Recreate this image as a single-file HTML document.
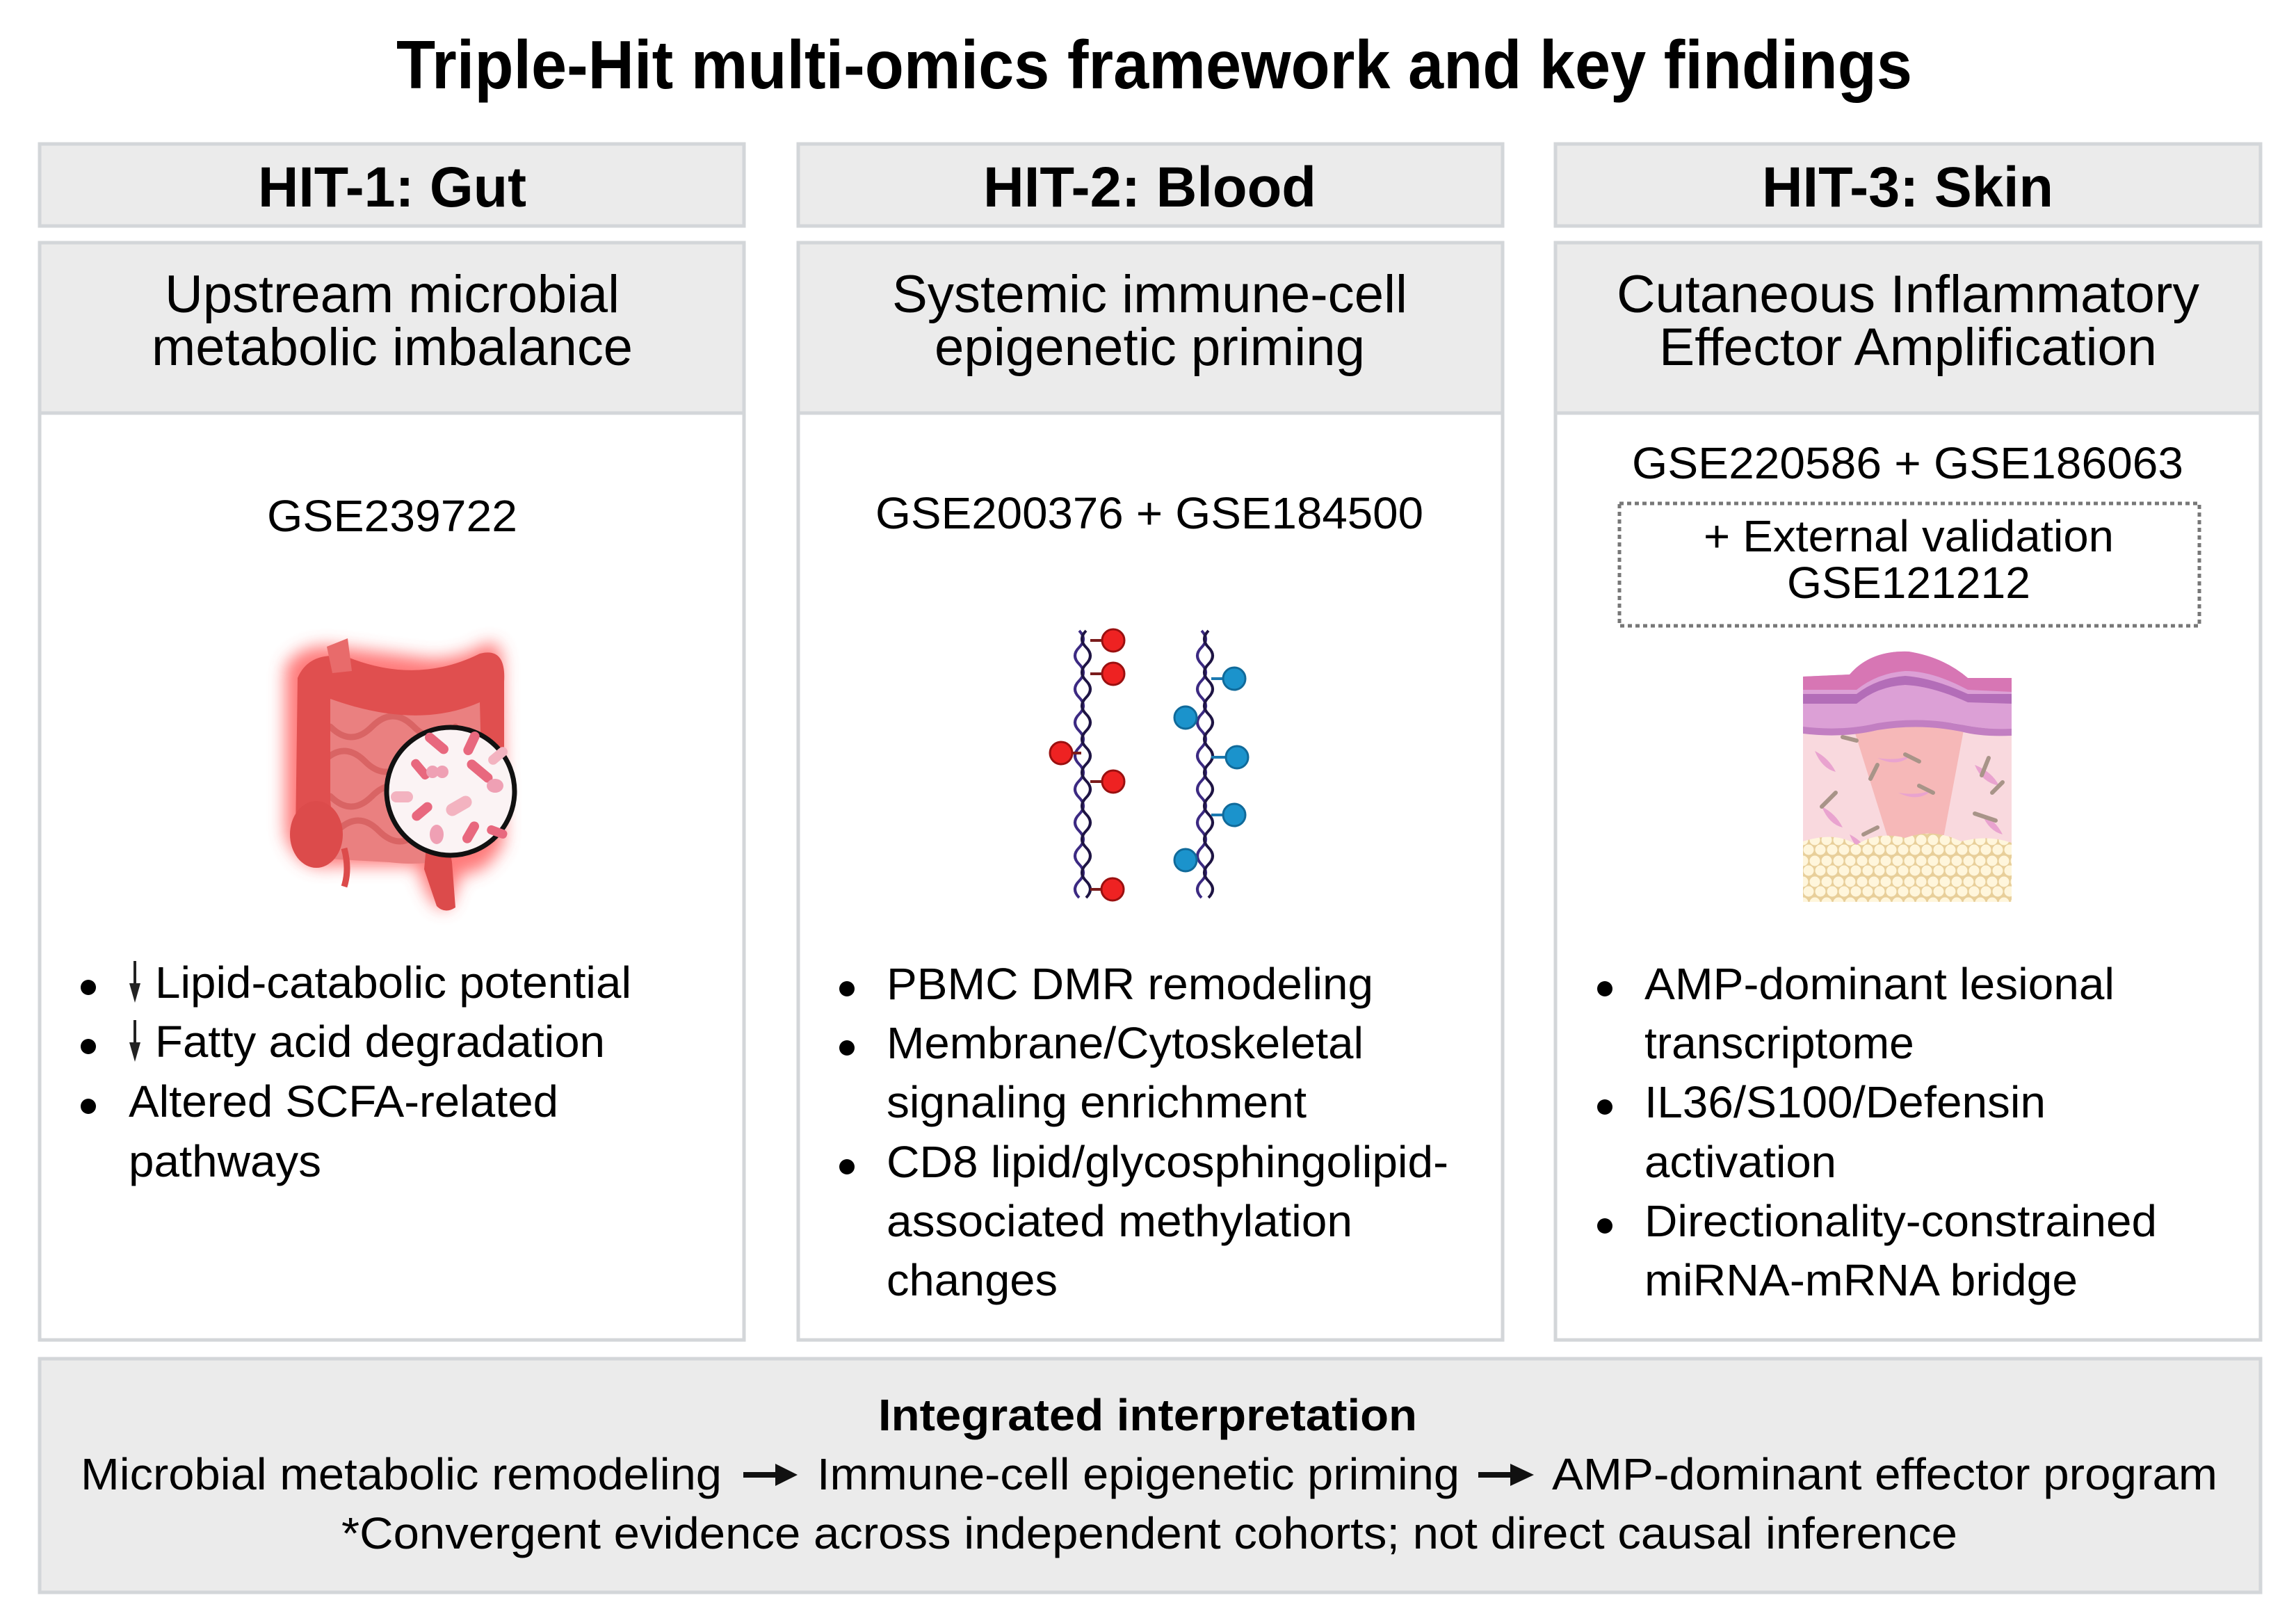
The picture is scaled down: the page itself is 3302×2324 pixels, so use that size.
<!DOCTYPE html>
<html><head><meta charset="utf-8"><style>
html,body{margin:0;padding:0;background:#fff;}
svg{display:block;}
text{font-family:"Liberation Sans",Arial,sans-serif;fill:#000;}
</style></head><body>
<svg width="3302" height="2324" viewBox="0 0 3302 2324" xmlns="http://www.w3.org/2000/svg">
<defs>
<filter id="glow" x="-30%" y="-30%" width="160%" height="160%"><feGaussianBlur stdDeviation="12"/></filter>
<pattern id="fat" width="34" height="30" patternUnits="userSpaceOnUse">
<rect width="34" height="30" fill="#e8cf9a"/>
<circle cx="9" cy="8" r="7.5" fill="#fff6dc"/><circle cx="26" cy="8" r="7.5" fill="#fff6dc"/>
<circle cx="17" cy="22" r="7.5" fill="#fff6dc"/><circle cx="0" cy="22" r="7.5" fill="#fff6dc"/><circle cx="34" cy="22" r="7.5" fill="#fff6dc"/>
</pattern>
</defs>

<text x="570" y="127" font-size="98" font-weight="bold" textLength="2180" lengthAdjust="spacingAndGlyphs">Triple-Hit multi-omics framework and key findings</text>

<g stroke="#d3d6d9" stroke-width="5">
<rect x="57" y="207" width="1013" height="118" fill="#ebebeb"/>
<rect x="57" y="349" width="1013" height="245" fill="#ebebeb"/>
<rect x="57" y="594" width="1013" height="1333" fill="#fff"/>
<rect x="1148" y="207" width="1013" height="118" fill="#ebebeb"/>
<rect x="1148" y="349" width="1013" height="245" fill="#ebebeb"/>
<rect x="1148" y="594" width="1013" height="1333" fill="#fff"/>
<rect x="2237" y="207" width="1014" height="118" fill="#ebebeb"/>
<rect x="2237" y="349" width="1014" height="245" fill="#ebebeb"/>
<rect x="2237" y="594" width="1014" height="1333" fill="#fff"/>
<rect x="57" y="1954" width="3194" height="336" fill="#ebebeb"/>
</g>

<text x="371" y="297" font-size="82" font-weight="bold" textLength="386" lengthAdjust="spacingAndGlyphs">HIT-1: Gut</text>
<text x="1414" y="297" font-size="82" font-weight="bold" textLength="479" lengthAdjust="spacingAndGlyphs">HIT-2: Blood</text>
<text x="2534" y="297" font-size="82" font-weight="bold" textLength="419" lengthAdjust="spacingAndGlyphs">HIT-3: Skin</text>

<text x="237" y="449" font-size="76" textLength="654" lengthAdjust="spacingAndGlyphs">Upstream microbial</text>
<text x="218" y="525" font-size="76" textLength="692" lengthAdjust="spacingAndGlyphs">metabolic imbalance</text>
<text x="1283" y="449" font-size="76" textLength="741" lengthAdjust="spacingAndGlyphs">Systemic immune-cell</text>
<text x="1344" y="525" font-size="76" textLength="619" lengthAdjust="spacingAndGlyphs">epigenetic priming</text>
<text x="2325" y="449" font-size="76" textLength="838" lengthAdjust="spacingAndGlyphs">Cutaneous Inflammatory</text>
<text x="2386" y="525" font-size="76" textLength="716" lengthAdjust="spacingAndGlyphs">Effector Amplification</text>

<text x="384" y="764" font-size="64" textLength="360" lengthAdjust="spacingAndGlyphs">GSE239722</text>
<text x="1259" y="760" font-size="64" textLength="788" lengthAdjust="spacingAndGlyphs">GSE200376 + GSE184500</text>
<text x="2347" y="688" font-size="64" textLength="793" lengthAdjust="spacingAndGlyphs">GSE220586 + GSE186063</text>
<rect x="2329" y="724" width="834" height="176" fill="none" stroke="#777" stroke-width="5" stroke-dasharray="6 5"/>
<text x="2450" y="793" font-size="64" textLength="590" lengthAdjust="spacingAndGlyphs">+ External validation</text>
<text x="2570" y="860" font-size="64" textLength="350" lengthAdjust="spacingAndGlyphs">GSE121212</text>

<!-- Gut -->
<g>
<g filter="url(#glow)" opacity="0.75">
<path d="M410 960 Q430 925 480 930 L600 945 Q650 955 700 925 Q725 920 722 970 L725 1210 Q700 1260 665 1255 L645 1305 Q620 1315 600 1245 L480 1245 Q430 1255 410 1200 Z" fill="#ff4d4d"/>
</g>
<path d="M430 990 L470 990 Q600 1030 700 985 L712 1010 L712 1210 Q640 1250 560 1240 L470 1235 L435 1190 Z" fill="#ea8080"/>
<g fill="none" stroke="#d96464" stroke-width="9" stroke-linecap="round">
<path d="M475 1045 q30 30 60 0 t60 0 t60 0"/>
<path d="M465 1095 q30 -30 60 0 t60 0 t60 0"/>
<path d="M475 1145 q30 30 60 0 t60 0"/>
<path d="M485 1195 q30 -30 60 0 t60 0"/>
</g>
<path d="M428 975 Q445 935 500 945 Q600 985 690 940 Q728 930 725 980 L725 1180 Q722 1205 695 1200 L690 1010 Q600 1050 475 1005 L475 1150 Q480 1200 475 1225 Q435 1235 425 1200 Z" fill="#e04f4f"/>
<path d="M470 930 L500 918 L506 965 L478 968 Z" fill="#e86b6b"/>
<ellipse cx="455" cy="1200" rx="38" ry="48" fill="#dc4b4b"/>
<path d="M615 1195 Q645 1205 650 1240 L655 1305 Q640 1315 628 1303 L610 1250 Z" fill="#dc4b4b"/>
<path d="M495 1220 q8 30 0 55" stroke="#dc4b4b" stroke-width="9" fill="none"/>
<circle cx="648" cy="1138" r="92" fill="#fbf3f4" stroke="#111" stroke-width="7"/>
<g fill="#e8687e">
<rect x="608" y="1062" width="40" height="14" rx="7" transform="rotate(40 628 1069)"/>
<rect x="660" y="1062" width="36" height="14" rx="7" transform="rotate(-65 678 1069)"/>
<rect x="668" y="1102" width="44" height="14" rx="7" transform="rotate(40 690 1109)"/>
<rect x="588" y="1100" width="34" height="13" rx="6" transform="rotate(50 605 1106)"/>
<rect x="590" y="1160" width="34" height="14" rx="7" transform="rotate(-40 607 1167)"/>
<rect x="660" y="1190" width="34" height="14" rx="7" transform="rotate(-60 677 1197)"/>
<rect x="700" y="1190" width="30" height="13" rx="6" transform="rotate(20 715 1196)"/>
<circle cx="622" cy="1110" r="9" fill="#efa0b4"/><circle cx="636" cy="1110" r="9" fill="#efa0b4"/>
<rect x="640" y="1150" width="40" height="18" rx="9" fill="#f3b3c0" transform="rotate(-30 660 1159)"/>
<rect x="562" y="1138" width="32" height="16" rx="8" fill="#f3b3c0"/>
<ellipse cx="628" cy="1200" rx="10" ry="14" fill="#efa0b4"/>
<ellipse cx="712" cy="1130" rx="12" ry="10" fill="#efa0b4"/>
<rect x="700" y="1080" width="32" height="14" rx="7" fill="#f3b3c0" transform="rotate(-40 716 1087)"/>
</g>
</g>

<!-- DNA -->
<g fill="none" stroke-width="4">
<path d="M1552 907 q12 12 0 24 t0 24 t0 24 t0 24 t0 24 t0 24 t0 24 t0 24 t0 24 t0 24 t0 24 t0 24 t0 24 t0 24 t0 24 t0 24" stroke="#3c2a82"/>
<path d="M1562 907 q-12 12 0 24 t0 24 t0 24 t0 24 t0 24 t0 24 t0 24 t0 24 t0 24 t0 24 t0 24 t0 24 t0 24 t0 24 t0 24 t0 24" stroke="#1e1444"/>
<path d="M1728 907 q12 12 0 24 t0 24 t0 24 t0 24 t0 24 t0 24 t0 24 t0 24 t0 24 t0 24 t0 24 t0 24 t0 24 t0 24 t0 24 t0 24" stroke="#3c2a82"/>
<path d="M1738 907 q-12 12 0 24 t0 24 t0 24 t0 24 t0 24 t0 24 t0 24 t0 24 t0 24 t0 24 t0 24 t0 24 t0 24 t0 24 t0 24 t0 24" stroke="#1e1444"/>
</g>
<g stroke="#7a1c1c" stroke-width="4">
<line x1="1568" y1="921" x2="1585" y2="921"/><line x1="1568" y1="969" x2="1585" y2="969"/>
<line x1="1540" y1="1083" x2="1555" y2="1083"/><line x1="1568" y1="1124" x2="1585" y2="1124"/><line x1="1568" y1="1279" x2="1585" y2="1279"/>
</g>
<g fill="#ee2222" stroke="#9a1010" stroke-width="3">
<circle cx="1601" cy="921" r="16"/><circle cx="1601" cy="969" r="16"/><circle cx="1526" cy="1083" r="16"/><circle cx="1601" cy="1124" r="16"/><circle cx="1600" cy="1279" r="16"/>
</g>
<g stroke="#1a78b0" stroke-width="4">
<line x1="1742" y1="976" x2="1760" y2="976"/><line x1="1742" y1="1089" x2="1762" y2="1089"/><line x1="1742" y1="1172" x2="1760" y2="1172"/>
</g>
<g fill="#1b93cc" stroke="#106a9a" stroke-width="3">
<circle cx="1775" cy="976" r="16"/><circle cx="1705" cy="1032" r="16"/><circle cx="1779" cy="1089" r="16"/><circle cx="1775" cy="1172" r="16"/><circle cx="1705" cy="1237" r="16"/>
</g>

<!-- Skin -->
<g>
<rect x="2593" y="1045" width="300" height="252" fill="#f9d9de"/>
<path d="M2665 1045 L2825 1045 L2795 1205 L2715 1205 Z" fill="#f6b8b8"/>
<g fill="#e9a3cf">
<path d="M2610 1080 q20 10 30 30 q-20 -5 -30 -30z"/><path d="M2840 1100 q25 10 35 30 q-25 -5 -35 -30z"/>
<path d="M2620 1160 q20 10 30 30 q-20 -5 -30 -30z"/><path d="M2700 1090 q30 5 50 -5 q-20 20 -50 5z"/>
<path d="M2730 1140 q30 5 50 -5 q-20 20 -50 5z"/><path d="M2850 1170 q20 10 30 30 q-20 -5 -30 -30z"/>
<path d="M2660 1200 q20 10 30 30 q-20 -5 -30 -30z"/><path d="M2780 1210 q20 10 30 30 q-20 -5 -30 -30z"/>
</g>
<g stroke="#a89488" stroke-width="6" stroke-linecap="round">
<line x1="2650" y1="1060" x2="2670" y2="1065"/><line x1="2700" y1="1100" x2="2690" y2="1120"/>
<line x1="2740" y1="1085" x2="2760" y2="1095"/><line x1="2860" y1="1090" x2="2850" y2="1115"/>
<line x1="2620" y1="1160" x2="2640" y2="1140"/><line x1="2680" y1="1200" x2="2700" y2="1190"/>
<line x1="2760" y1="1130" x2="2780" y2="1140"/><line x1="2840" y1="1170" x2="2870" y2="1180"/>
<line x1="2720" y1="1205" x2="2745" y2="1210"/><line x1="2865" y1="1140" x2="2880" y2="1125"/>
</g>
<path d="M2593 973 L2660 970 Q2690 935 2745 937 Q2795 945 2830 975 L2893 975 L2893 1050 Q2840 1047 2820 1042 Q2760 1030 2690 1045 Q2640 1050 2593 1048 Z" fill="#dca0d6"/>
<path d="M2593 973 L2660 970 Q2690 935 2745 937 Q2795 945 2830 975 L2893 975 L2893 995 L2830 992 Q2780 965 2740 965 Q2700 968 2670 992 L2593 992 Z" fill="#d776b4"/>
<path d="M2593 998 L2670 998 Q2700 975 2740 972 Q2780 975 2830 998 L2893 998 L2893 1012 L2830 1010 Q2780 987 2740 985 Q2700 987 2670 1012 L2593 1012 Z" fill="#b36db8"/>
<path d="M2593 1045 Q2650 1052 2700 1040 Q2760 1030 2820 1042 Q2860 1050 2893 1048 L2893 1058 Q2850 1060 2820 1052 Q2760 1040 2700 1050 Q2650 1062 2593 1055 Z" fill="#c27fc2"/>
<path d="M2593 1210 Q2640 1195 2670 1215 Q2700 1195 2740 1205 Q2780 1190 2820 1210 Q2860 1200 2893 1212 L2893 1297 L2593 1297 Z" fill="url(#fat)"/>
</g>

<!-- Column 1 bullets -->
<g fill="#000"><circle cx="127" cy="1420" r="11"/><circle cx="127" cy="1505" r="11"/><circle cx="127" cy="1591" r="11"/></g>
<g stroke="#222" stroke-width="4"><line x1="194" y1="1382" x2="194" y2="1420"/><line x1="194" y1="1467" x2="194" y2="1505"/></g>
<g fill="#222"><path d="M186 1414 L202 1414 L194 1442 Z"/><path d="M186 1499 L202 1499 L194 1527 Z"/></g>
<text x="223" y="1435" font-size="64" textLength="685" lengthAdjust="spacingAndGlyphs">Lipid-catabolic potential</text>
<text x="223" y="1520" font-size="64" textLength="647" lengthAdjust="spacingAndGlyphs">Fatty acid degradation</text>
<text x="185" y="1606" font-size="64" textLength="618" lengthAdjust="spacingAndGlyphs">Altered SCFA-related</text>
<text x="185" y="1692" font-size="64" textLength="277" lengthAdjust="spacingAndGlyphs">pathways</text>

<!-- Column 2 bullets -->
<g fill="#000"><circle cx="1218" cy="1422" r="11"/><circle cx="1218" cy="1507" r="11"/><circle cx="1218" cy="1678" r="11"/></g>
<text x="1275" y="1437" font-size="64" textLength="700" lengthAdjust="spacingAndGlyphs">PBMC DMR remodeling</text>
<text x="1275" y="1522" font-size="64" textLength="686" lengthAdjust="spacingAndGlyphs">Membrane/Cytoskeletal</text>
<text x="1275" y="1607" font-size="64" textLength="604" lengthAdjust="spacingAndGlyphs">signaling enrichment</text>
<text x="1275" y="1693" font-size="64" textLength="808" lengthAdjust="spacingAndGlyphs">CD8 lipid/glycosphingolipid-</text>
<text x="1275" y="1778" font-size="64" textLength="670" lengthAdjust="spacingAndGlyphs">associated methylation</text>
<text x="1275" y="1863" font-size="64" textLength="246" lengthAdjust="spacingAndGlyphs">changes</text>

<!-- Column 3 bullets -->
<g fill="#000"><circle cx="2308" cy="1422" r="11"/><circle cx="2308" cy="1592" r="11"/><circle cx="2308" cy="1763" r="11"/></g>
<text x="2365" y="1437" font-size="64" textLength="676" lengthAdjust="spacingAndGlyphs">AMP-dominant lesional</text>
<text x="2365" y="1522" font-size="64">transcriptome</text>
<text x="2365" y="1607" font-size="64" textLength="577" lengthAdjust="spacingAndGlyphs">IL36/S100/Defensin</text>
<text x="2365" y="1693" font-size="64" textLength="276" lengthAdjust="spacingAndGlyphs">activation</text>
<text x="2365" y="1778" font-size="64" textLength="737" lengthAdjust="spacingAndGlyphs">Directionality-constrained</text>
<text x="2365" y="1863" font-size="64" textLength="623" lengthAdjust="spacingAndGlyphs">miRNA-mRNA bridge</text>

<!-- Bottom -->
<text x="1263" y="2057" font-size="64" font-weight="bold" textLength="775" lengthAdjust="spacingAndGlyphs">Integrated interpretation</text>
<text x="116" y="2142" font-size="64" textLength="922" lengthAdjust="spacingAndGlyphs">Microbial metabolic remodeling</text>
<text x="1175" y="2142" font-size="64" textLength="924" lengthAdjust="spacingAndGlyphs">Immune-cell epigenetic priming</text>
<text x="2232" y="2142" font-size="64" textLength="957" lengthAdjust="spacingAndGlyphs">AMP-dominant effector program</text>
<g fill="#111">
<rect x="1069" y="2117" width="52" height="8"/><path d="M1115 2105 L1147 2121 L1115 2137 Z"/>
<rect x="2126" y="2117" width="52" height="8"/><path d="M2172 2105 L2206 2121 L2172 2137 Z"/>
</g>
<text x="491" y="2227" font-size="64" textLength="2324" lengthAdjust="spacingAndGlyphs">*Convergent evidence across independent cohorts; not direct causal inference</text>
</svg>
</body></html>
